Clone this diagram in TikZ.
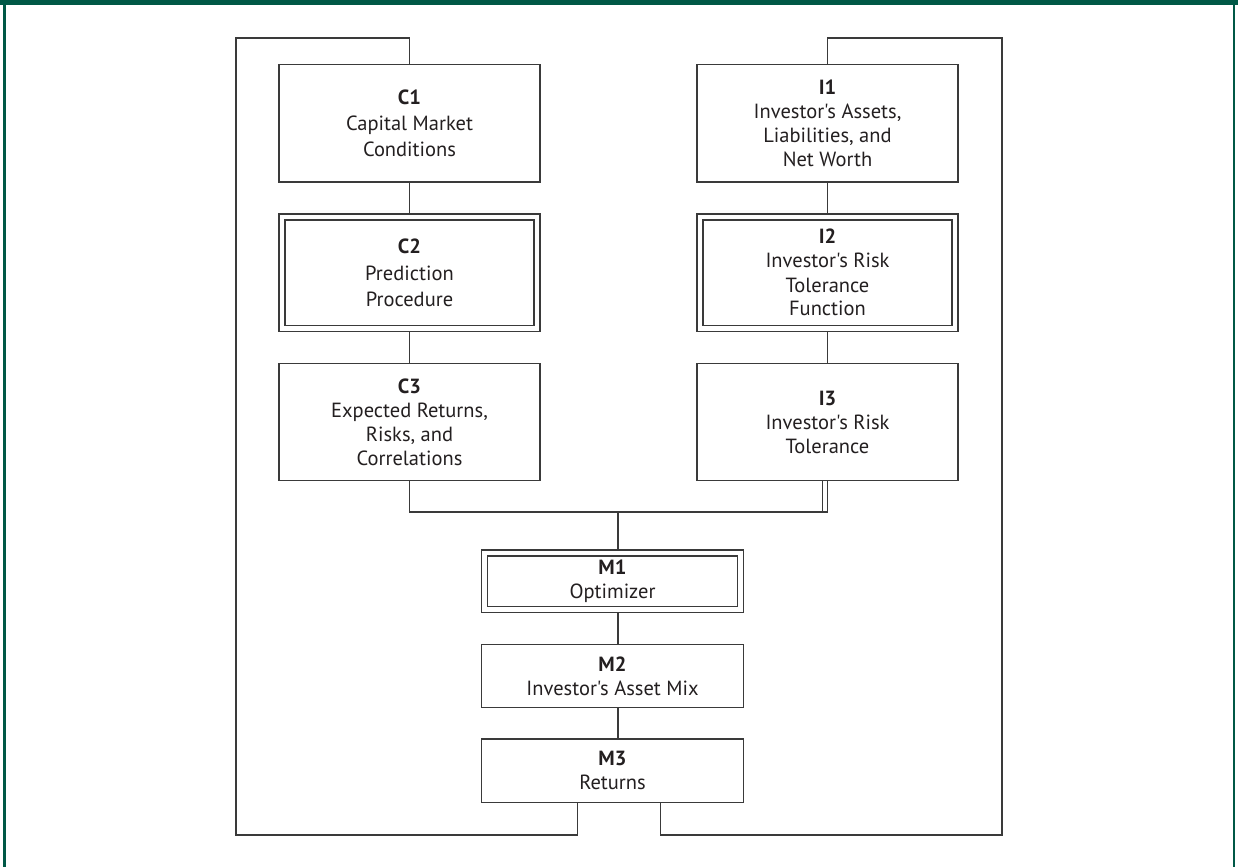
\documentclass[tikz,border=0pt]{standalone}
\usepackage{fontspec}
\setmainfont{PT Sans}[Ligatures=TeXOff]
\definecolor{framegreen}{RGB}{0,88,70}
\definecolor{linegray}{RGB}{58,58,58}
\definecolor{txt}{RGB}{35,31,32}
\begin{document}
\begin{tikzpicture}[x=1pt,y=-1pt,
  box/.style={draw=linegray,line width=1.3pt,inner sep=0pt,outer sep=0pt,
    minimum width=261pt,align=center,text=txt,
    font=\fontsize{20.5}{24}\selectfont},
  dbox/.style={box},
  conn/.style={draw=linegray,line width=1.3pt}]
\useasboundingbox (0,0) rectangle (1238,867);
% frame
\fill[framegreen] (0,0) rectangle (1238,5);
\fill[framegreen] (3,0) rectangle (6,867);
\fill[framegreen] (1233,0) rectangle (1235,867);
% boxes
\node[box,minimum height=117.5pt] (c1) at (409.5,123.3) {\textbf{C1}\\[2pt]Capital Market\\[2pt]Conditions};
\node[dbox,minimum height=117.7pt] (c2) at (409.5,272.8) {\textbf{C2}\\[3pt]Prediction\\[2pt]Procedure};
\node[box,minimum height=117.4pt] (c3) at (409.5,422) {\textbf{C3}\\Expected Returns,\\Risks, and\\Correlations};
\node[box,minimum height=117.5pt] (i1) at (827.5,123.3) {\textbf{I1}\\Investor's Assets,\\Liabilities, and\\Net Worth};
\node[dbox,minimum height=117.7pt] (i2) at (827.5,272.8) {\textbf{I2}\\Investor's Risk\\Tolerance\\Function};
\node[box,minimum height=117.4pt] (i3) at (827.5,422) {\textbf{I3}\\Investor's Risk\\Tolerance};
\node[dbox,minimum height=62.3pt,minimum width=261.6pt] (m1) at (612.5,581.2) {\textbf{M1}\\Optimizer};
\node[box,minimum height=62.6pt,minimum width=261.6pt] (m2) at (612.5,676) {\textbf{M2}\\Investor's Asset Mix};
\node[box,minimum height=63.3pt,minimum width=261.6pt] (m3) at (612.5,770.6) {\textbf{M3}\\Returns};
% inner frames of double boxes
\foreach \n in {c2,i2,m1}
  \draw[linegray,line width=1.3pt] ([shift={(6,6)}]\n.north west) rectangle ([shift={(-6,-6)}]\n.south east);
% connectors
\coordinate (j) at (618,512);
\draw[conn] (c1.south) -- (c2.north);
\draw[conn] (c2.south) -- (c3.north);
\draw[conn] (i1.south) -- (i2.north);
\draw[conn] (i2.south) -- (i3.north);
\draw[conn] (c3.south) |- (j);
\draw[conn] (i3.south) |- (j);
\draw[conn] ([xshift=-5pt]i3.south) -- ([xshift=-5pt]i3.south |- j);
\draw[conn] (j) -- (j |- m1.north);
\draw[conn] (m1.south -| j) -- (m2.north -| j);
\draw[conn] (m2.south -| j) -- (m3.north -| j);
% feedback loops
\coordinate (lb) at (236,835);
\coordinate (lt) at (236,38);
\coordinate (rb) at (1002,835);
\coordinate (rt) at (1002,38);
\draw[conn] ([xshift=-35.2pt]m3.south) |- (lb) -- (lt) -| (c1.north);
\draw[conn] ([xshift=48.2pt]m3.south) |- (rb) -- (rt) -| (i1.north);
\end{tikzpicture}
\end{document}
